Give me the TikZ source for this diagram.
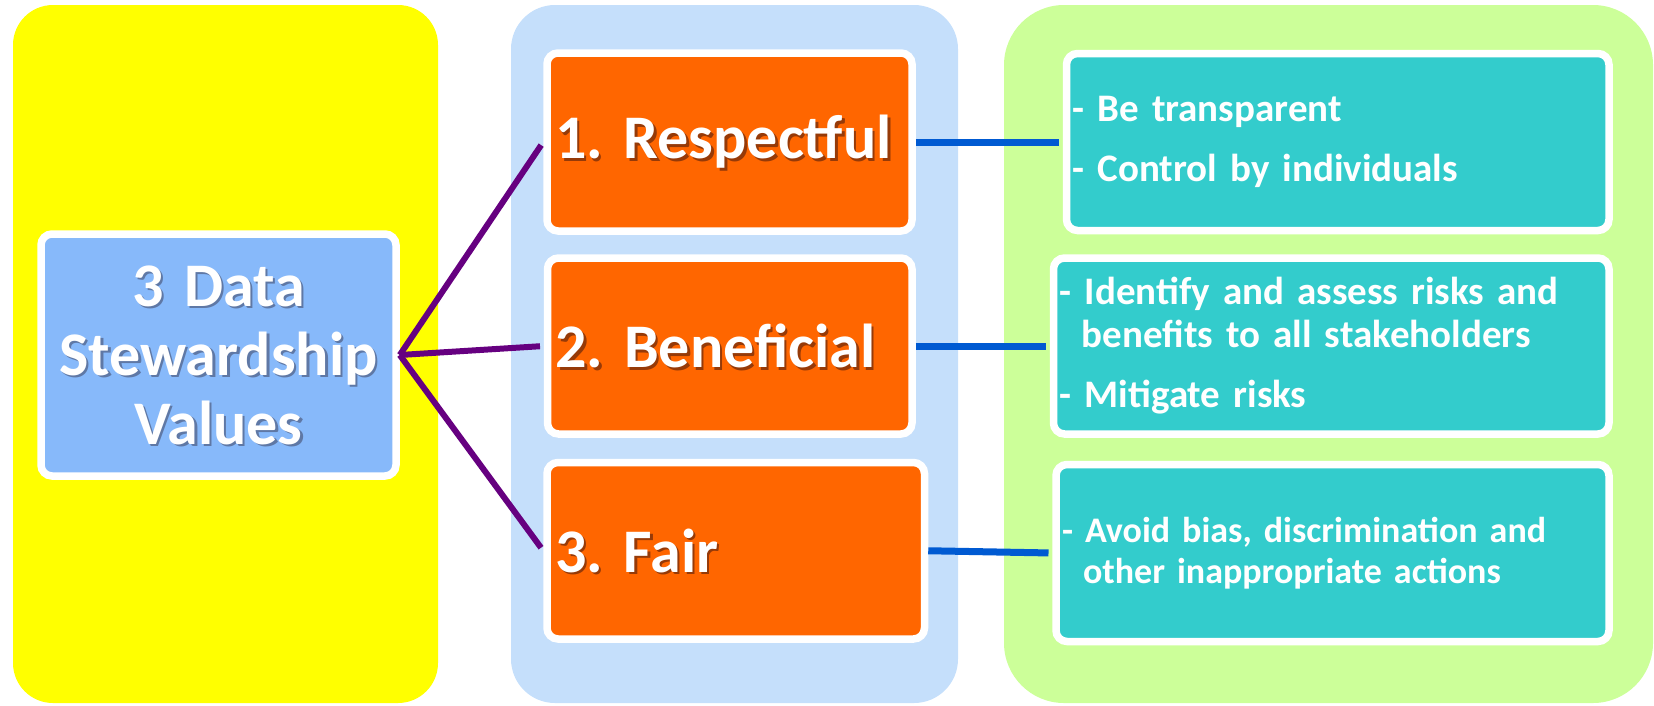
\documentclass[tikz,border=0pt]{standalone}
\usepackage{fontspec}
\setmainfont{Carlito}
\frenchspacing

\definecolor{panelyellow}{RGB}{255,255,0}
\definecolor{panelblue}{RGB}{197,223,251}
\definecolor{panelgreen}{RGB}{204,255,153}
\definecolor{valueblue}{RGB}{135,185,250}
\definecolor{valueorange}{RGB}{255,102,0}
\definecolor{detailteal}{RGB}{51,204,204}
\definecolor{linkpurple}{RGB}{102,0,128}
\definecolor{linkblue}{RGB}{0,90,210}
\definecolor{shadeorange}{RGB}{150,58,8}
\definecolor{shadeblue}{RGB}{95,120,165}

% text with a small offset drop shadow behind it
\newcommand{\shadowed}[2]{\makebox[0pt][l]{\hspace*{2.5pt}\raisebox{-2.5pt}[0pt][0pt]{\textcolor{#1}{#2}}}#2}

\begin{document}
\begin{tikzpicture}[x=1pt,y=-1pt,
  panel/.style={rounded corners=#1},
  card/.style={draw=white, line width=7.5pt, rounded corners=11pt,
    inner ysep=0pt, text=white},
  bigtext/.style={font=\fontsize{62}{69}\selectfont\bfseries},
  valuecard/.style={card, bigtext, fill=valueorange, align=left, inner xsep=8pt},
  detailcard/.style={card, fill=detailteal, align=left, inner xsep=6pt},
  purplelink/.style={draw=linkpurple, line width=6pt, shorten >=3.75pt},
  bluelink/.style={draw=linkblue, line width=7pt, shorten >=3.75pt}]

\useasboundingbox (0,0) rectangle (1654,705);

% three background columns
\fill[panelyellow, panel=40pt] (13,5) rectangle (438,703);
\fill[panelblue, panel=44pt] (511,5) rectangle (958,703);
\fill[panelgreen, panel=60pt] (1004,5) rectangle (1653,703);

% title card
\node[card, bigtext, fill=valueblue, align=center, inner xsep=5pt,
      minimum width=355pt, minimum height=242pt, text width=345pt] (L) at (218.5,355)
  {\shadowed{shadeblue}{3 Data}\\\shadowed{shadeblue}{Stewardship}\\\shadowed{shadeblue}{Values}};

% the three values
\node[valuecard, minimum width=365pt, minimum height=178pt, text width=349pt] (R1) at (729.5,142)
  {\shadowed{shadeorange}{1. Respectful}};
\node[valuecard, minimum width=364.5pt, minimum height=176pt, text width=348.5pt] (R2) at (729.75,346)
  {\shadowed{shadeorange}{2. Beneficial}};
\node[valuecard, minimum width=377.5pt, minimum height=176.5pt, text width=361.5pt] (R3) at (735.75,550.75)
  {\shadowed{shadeorange}{3. Fair}};

% what each value means
\node[detailcard, font=\fontsize{39}{43}\selectfont\bfseries,
      minimum width=542.5pt, minimum height=177pt, text width=530pt] (T1) at (1337.75,142)
  {- Be transparent\\[17pt]- Control by individuals};
\node[detailcard, font=\fontsize{39}{43}\selectfont\bfseries,
      minimum width=555.5pt, minimum height=176pt, text width=543pt] (T2) at (1331.25,346)
  {- Identify and assess risks and\\\hspace*{22pt}benefits to all stakeholders\\[17pt]- Mitigate risks};
\node[detailcard, font=\fontsize{36}{41}\selectfont\bfseries,
      minimum width=553pt, minimum height=177pt, text width=541pt] (T3) at (1332.5,553)
  {- Avoid bias, discrimination and\\\hspace*{21pt}other inappropriate actions};

% connectors
\draw[purplelink] (L.east) -- (R1.west);
\draw[purplelink] (L.east) -- (R2.west);
\draw[purplelink] (L.east) -- (R3.west);
\draw[bluelink] (R1.east) -- (T1.west);
\draw[bluelink] (R2.east) -- (T2.west);
\draw[bluelink] (R3.east) -- (T3.west);
\end{tikzpicture}
\end{document}
